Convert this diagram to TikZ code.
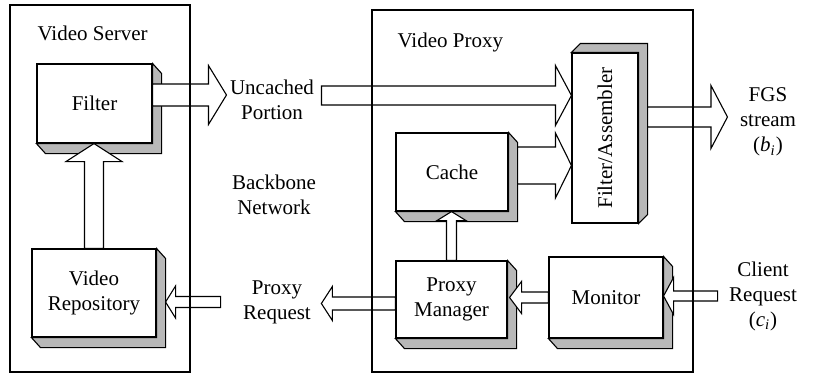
\documentclass[tikz,border=0pt]{standalone}
\usepackage{fontspec}
\setmainfont{Liberation Serif}
\usetikzlibrary{calc}

% 3D box sides: shifted down-right / up-right
\newcommand{\shadeDR}[1]{%
  \draw[shade3d] (#1.north east) -- ([shift={(9,10)}]#1.north east) -- ([shift={(9,10)}]#1.south east)
    -- ([shift={(9,10)}]#1.south west) -- (#1.south west) -- (#1.south east) -- cycle;}
\newcommand{\shadeUR}[1]{%
  \draw[shade3d] (#1.north west) -- ([shift={(9,-9)}]#1.north west) -- ([shift={(9,-9)}]#1.north east)
    -- ([shift={(9,-9)}]#1.south east) -- (#1.south east) -- (#1.north east) -- cycle;}
% hollow block arrows: from, to, shaft half width, head half width, head length (pt)
\newcommand{\harrow}[5]{%
  \draw[fatarrow] let \p1=(#1), \p2=(#2), \n1={\x2-sign(\x2-\x1)*#5pt} in
    (\x1,\y1+#3pt) -- (\n1,\y1+#3pt) -- (\n1,\y1+#4pt) -- (\x2,\y1)
    -- (\n1,\y1-#4pt) -- (\n1,\y1-#3pt) -- (\x1,\y1-#3pt) -- cycle;}
\newcommand{\varrow}[5]{%
  \draw[fatarrow] let \p1=(#1), \p2=(#2), \n1={\y2-sign(\y2-\y1)*#5pt} in
    (\x1+#3pt,\y1) -- (\x1+#3pt,\n1) -- (\x1+#4pt,\n1) -- (\x1,\y2)
    -- (\x1-#4pt,\n1) -- (\x1-#3pt,\n1) -- (\x1-#3pt,\y1) -- cycle;}

\begin{document}
\begin{tikzpicture}[x=0.5pt, y=-0.5pt, line width=0.55pt,
  box3d/.style={draw, fill=white, inner sep=2pt, align=center, font=\fontsize{10.5}{12.5}\selectfont},
  shade3d/.style={draw, fill=black!28, line join=miter},
  fatarrow/.style={draw, fill=white, line join=miter},
  lbl/.style={inner sep=1.5pt, align=center, font=\fontsize{10.5}{12.5}\selectfont}]
  \useasboundingbox (0,0) rectangle (815,376);

  % Server side
  \node[box3d, minimum width=57.5pt, minimum height=39.5pt] (filter) at (94.5,103.5) {Filter};
  \node[box3d, minimum width=62pt, minimum height=44pt] (repo) at (94,293) {Video\\Repository};
  \shadeDR{filter}
  \shadeDR{repo}

  % Proxy side
  \node[box3d, minimum width=33pt, minimum height=85pt] (fa) at (605,138) {\rotatebox{90}{Filter/Assembler}};
  \node[box3d, minimum width=56pt, minimum height=39pt] (cache) at (452,172) {Cache};
  \node[box3d, minimum width=55.5pt, minimum height=38.5pt] (manager) at (451.5,299.5) {Proxy\\Manager};
  \node[box3d, minimum width=57pt, minimum height=40.5pt] (monitor) at (606,297.5) {Monitor};
  \shadeUR{fa}
  \shadeDR{cache}
  \shadeDR{manager}
  \shadeDR{monitor}

  % Labels
  \node[lbl, anchor=west] (serverlbl) at (34,33) {Video Server};
  \node[lbl, anchor=west] (proxylbl) at (394,42) {Video Proxy};
  \node[lbl] (uncached) at (272,100) {Uncached\\Portion};
  \node[lbl] (backbone) at (274,195) {Backbone\\Network};
  \node[lbl] (proxyreq) at (277,302) {Proxy\\Request};
  \node[lbl] (fgs) at (768,122) {FGS\\stream\\(\textit{b}\textsubscript{\textit{i}})};
  \node[lbl] (client) at (763,296) {Client\\Request\\(\textit{c}\textsubscript{\textit{i}})};

  % Arrows
  \varrow{repo.north}{filter.south}{4.75}{14}{9}
  \harrow{[yshift=4.25pt]filter.east}{uncached.west}{5.5}{14.75}{9}
  \harrow{[xshift=2pt, yshift=2.25pt]uncached.east}{fa.west}{4.75}{15}{8}
  \harrow{[xshift=4.5pt, yshift=3.25pt]cache.east}{fa.west}{9.25}{16.25}{8}
  \harrow{[xshift=4.5pt, yshift=10.5pt]fa.east}{[xshift=-4.5pt]fgs.west}{5}{15.75}{8.25}
  \varrow{manager.north}{cache.south}{2.5}{7.25}{4.5}
  \harrow{[xshift=-4pt]client.west}{monitor.east}{2.5}{9.25}{5}
  \harrow{monitor.west}{[xshift=1pt]manager.east}{2.75}{8}{6}
  \harrow{[yshift=-2pt]manager.west}{[xshift=3.5pt]proxyreq.east}{3.25}{8.5}{5.5}
  \harrow{[xshift=-9.5pt]proxyreq.west}{[xshift=4.5pt]repo.east}{2.75}{8}{5}

  % Outer frames
  \draw (10,5) rectangle (190,372);
  \draw (372,10) rectangle (693,372);
\end{tikzpicture}
\end{document}
